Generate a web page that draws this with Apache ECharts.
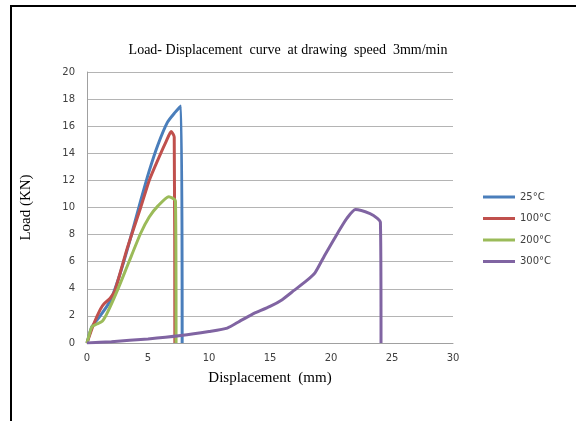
<!DOCTYPE html>
<html>
<head>
<meta charset="utf-8">
<script src="https://cdn.jsdelivr.net/npm/echarts@6/dist/echarts.min.js"></script>
<style>
  html, body { margin: 0; padding: 0; background: #fff; }
  #chart { width: 576px; height: 421px; }
</style>
</head>
<body>
<div id="chart"></div>
<script>
// series names
var seriesNames = ['25°C', '100°C', '200°C', '300°C'];

// [displacement mm, load KN]
var load25 = [[0, 0], [0.4, 1.2], [1, 1.9], [1.9, 3.1], [2.6, 4.8], [3.4, 7.2], [4.4, 10.5], [5.1, 12.7], [5.8, 14.6], [6.6, 16.3], [7.2, 17.0], [7.7, 17.5], [7.8, 0]];
var load100 = [[0, 0], [0.55, 1.4], [1.1, 2.5], [1.4, 2.9], [1.9, 3.3], [2.3, 3.9], [3.3, 7.0], [4.4, 10.0], [5.1, 12.0], [5.8, 13.5], [6.5, 14.9], [6.9, 15.6], [7.15, 15.2], [7.2, 0]];
var load200 = [[0, 0], [0.4, 1.2], [0.8, 1.4], [1.25, 1.6], [1.65, 2.2], [2.5, 3.9], [3.4, 5.9], [4.4, 8.1], [5.1, 9.3], [5.8, 10.1], [6.7, 10.8], [7.25, 10.5], [7.3, 0]];
var load300 = [[0, 0], [2, 0.1], [5, 0.3], [7.7, 0.55], [10, 0.85], [11.5, 1.1], [12.5, 1.6], [13.5, 2.1], [15, 2.7], [16, 3.2], [17, 3.9], [18, 4.6], [18.7, 5.2], [19.5, 6.5], [20.6, 8.2], [21.3, 9.2], [22, 9.85], [23.2, 9.55], [23.8, 9.2], [24.05, 8.9], [24.1, 0]];

var seriesColors = ['#4a7ebb', '#c0504d', '#9bbb59', '#8064a2'];

var chart = echarts.init(document.getElementById('chart'));

var lineSeries = [load25, load100, load200, load300].map(function (data, i) {
  return {
    name: seriesNames[i],
    type: 'line',
    data: data,
    smooth: 0.2,
    showSymbol: false,
    lineStyle: { width: 3, color: seriesColors[i] },
    itemStyle: { color: seriesColors[i] }
  };
});

chart.setOption({
  animation: false,
  title: {
    text: 'Load- Displacement  curve  at drawing  speed  3mm/min',
    left: 283,
    textAlign: 'center',
    top: 38,
    textStyle: { fontFamily: 'Liberation Serif', fontSize: 14, fontWeight: 'normal', color: '#000' }
  },
  legend: {
    orient: 'vertical',
    left: 478,
    top: 187,
    itemWidth: 32,
    itemHeight: 3,
    itemGap: 11.5,
    icon: 'rect',
    textStyle: { fontFamily: 'DejaVu Sans', fontSize: 10, color: '#404040' },
    data: seriesNames
  },
  grid: { left: 87, right: 123, top: 72, bottom: 78 },
  xAxis: {
    type: 'value',
    min: 0, max: 30, interval: 5,
    name: 'Displacement  (mm)',
    nameLocation: 'middle',
    nameGap: 28,
    nameTextStyle: { fontFamily: 'Liberation Serif', fontSize: 15, color: '#000' },
    axisLine: { lineStyle: { color: '#a0a0a0', width: 1 } },
    axisTick: { show: false },
    axisLabel: { fontFamily: 'DejaVu Sans', fontSize: 10, color: '#404040', margin: 10 },
    splitLine: { show: false }
  },
  yAxis: {
    type: 'value',
    min: 0, max: 20, interval: 2,
    name: 'Load (KN)',
    nameLocation: 'middle',
    nameGap: 53,
    nameTextStyle: { fontFamily: 'Liberation Serif', fontSize: 15, color: '#000' },
    axisLine: { show: true, lineStyle: { color: '#a0a0a0', width: 1 } },
    axisTick: { show: false },
    axisLabel: { fontFamily: 'DejaVu Sans', fontSize: 10, color: '#404040', margin: 12 },
    splitLine: { lineStyle: { color: '#b4b4b4', width: 1 } }
  },
  graphic: [{
    type: 'polyline',
    shape: { points: [[11, 421], [11, 6], [576, 6]] },
    style: { stroke: '#000', lineWidth: 2, fill: null }
  }],
  series: lineSeries
});
</script>
</body>
</html>
